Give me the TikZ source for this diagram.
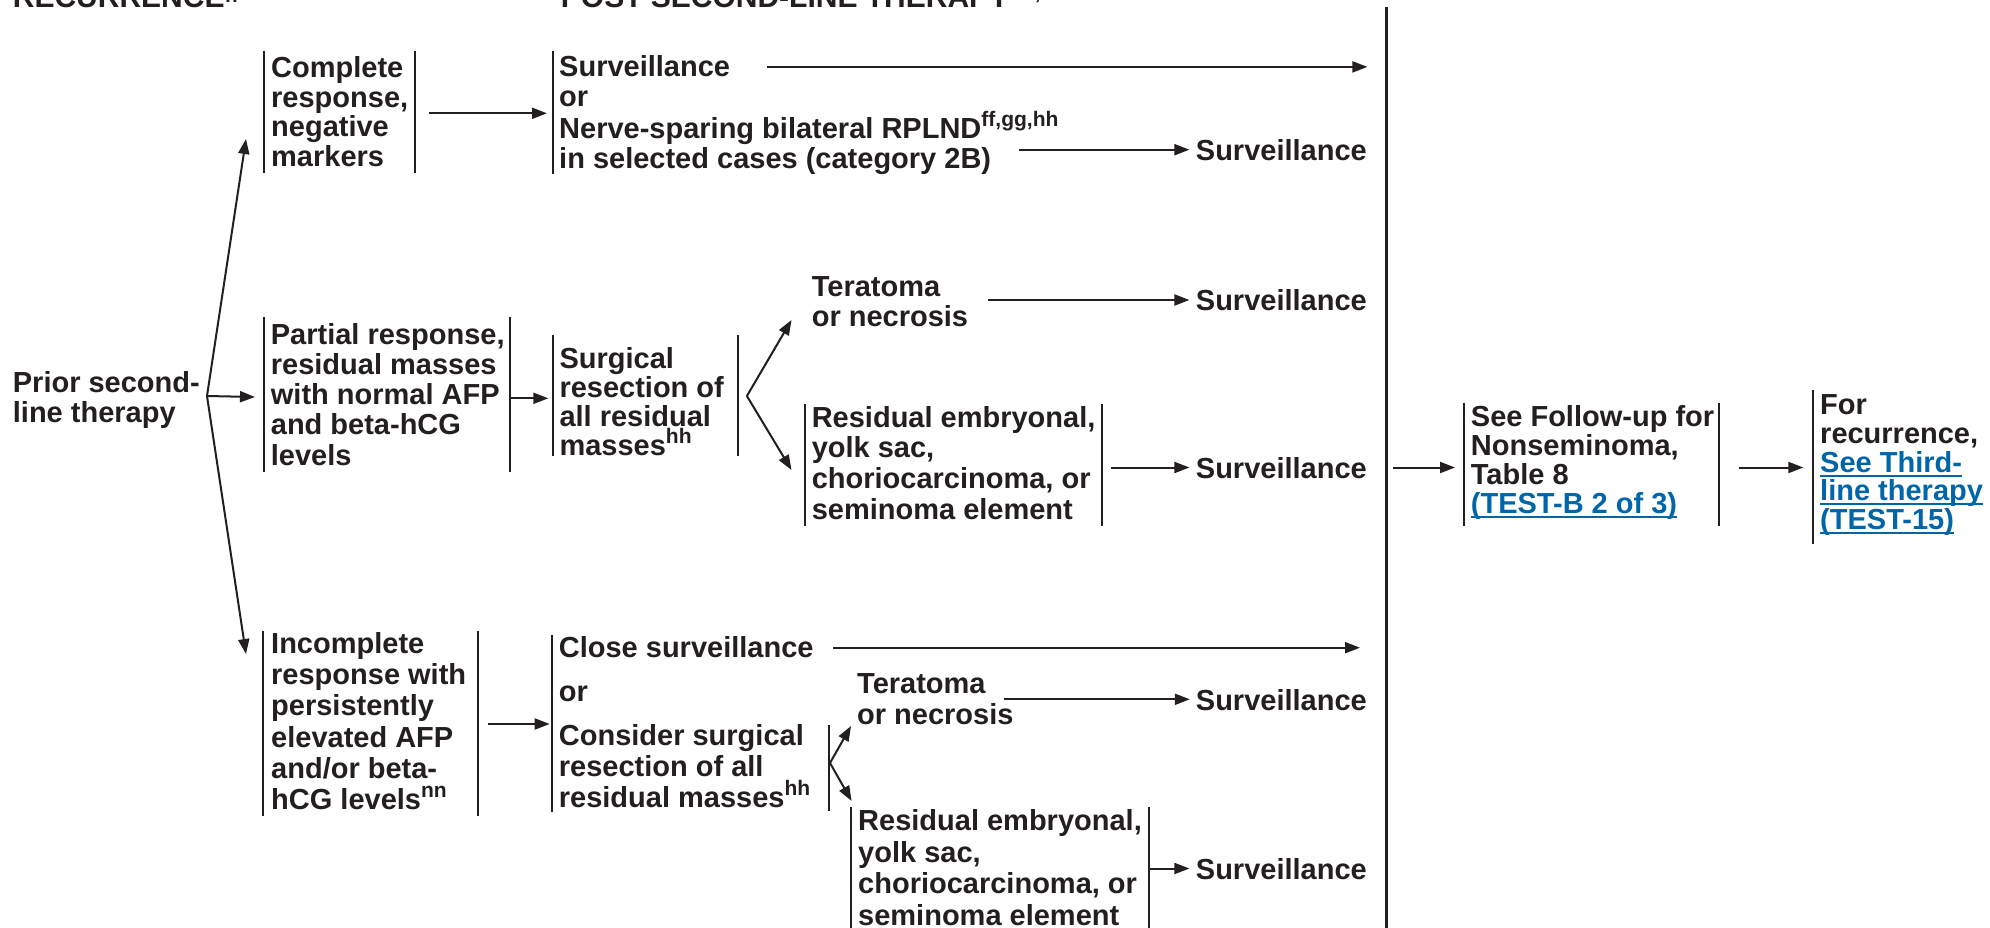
\documentclass[tikz,border=0pt]{standalone}
\usepackage{fontspec}
\setmainfont{Liberation Sans}
\usetikzlibrary{arrows.meta}
\definecolor{ink}{RGB}{35,31,32}
\definecolor{nblue}{RGB}{0,102,170}
\newcommand\ftx{\fontsize{29}{30}\selectfont\bfseries}
\newcommand\ml[2]{\vtop{\baselineskip=#1pt\lineskiplimit=-1000pt\lineskip=0pt\halign{##\hfil\cr#2\crcr}}}
\newcommand\sups[1]{\raisebox{12pt}{\fontsize{21}{21}\selectfont #1}}
\newcommand\hsups[2]{\raisebox{#1pt}{\fontsize{21}{21}\selectfont #2}}
\newcommand\lnk[1]{\setbox0=\hbox{#1}\rlap{\color{nblue}\rule[-4.5pt]{\wd0}{2pt}}{\color{nblue}\box0}}
\begin{document}
\begin{tikzpicture}[x=1pt,y=-1pt,
  txt/.style={inner sep=0pt, anchor=base west, font=\ftx, text=ink},
  bar/.style={draw=ink, line width=2pt},
  arr/.style={draw=ink, line width=2pt, -{Triangle[length=15pt,width=11pt]}}]
\useasboundingbox[fill=white] (0,0) rectangle (1990,928);

% headers (cut by the top edge)
\node[txt] (hdrA) at (12.7,7.5) {\fontsize{30}{30}\selectfont RECURRENCE\hsups{4.5}{ff}};
\node[txt] (hdrB) at (560.7,7.5) {\fontsize{30}{30}\selectfont POST SECOND-LINE THERAPY\hsups{8}{hh,nn}};

% text nodes
\node[txt] (prior) at (12.7,392) {\ml{30}{Prior second-\cr line therapy}};
\node[txt] (complete) at (271,77.5) {\ml{29.7}{Complete\cr response,\cr negative\cr markers}};
\node[txt] (survor) at (559,77) {\ml{30}{Surveillance\cr or\cr\noalign{\vskip2pt}Nerve-sparing bilateral RPLND\sups{ff,gg,hh}\cr in selected cases (category 2B)}};
\node[txt] (partial) at (270.7,344.3) {\ml{30.2}{Partial response,\cr residual masses\cr with normal AFP\cr and beta-hCG\cr levels}};
\node[txt] (surgical) at (559.3,368.3) {\ml{29}{Surgical\cr resection of\cr all residual\cr masses\sups{hh}}};
\node[txt] (tera1) at (811.6,296) {\ml{30.5}{Teratoma\cr or necrosis}};
\node[txt] (resid1) at (811.6,427) {\ml{30.8}{Residual embryonal,\cr yolk sac,\cr choriocarcinoma, or\cr seminoma element}};
\node[txt] (incomplete) at (271,653.5) {\ml{31.2}{Incomplete\cr response with\cr persistently\cr elevated AFP\cr and/or beta-\cr hCG levels\sups{nn}}};
\node[txt] (close) at (558.7,657.5) {\ml{31}{Close surveillance\cr\noalign{\vskip12.5pt}or\cr\noalign{\vskip13pt}Consider surgical\cr resection of all\cr residual masses\sups{hh}}};
\node[txt] (tera2) at (857,693.5) {\ml{30.5}{Teratoma\cr or necrosis}};
\node[txt] (resid2) at (858,830.5) {\ml{31.5}{Residual embryonal,\cr yolk sac,\cr choriocarcinoma, or\cr seminoma element}};
\node[txt] (s1) at (1195.7,160.2) {Surveillance};
\node[txt] (s2) at (1195.7,310.5) {Surveillance};
\node[txt] (s3) at (1195.7,478) {Surveillance};
\node[txt] (s4) at (1195.7,710) {Surveillance};
\node[txt] (s5) at (1195.7,879) {Surveillance};
\node[txt] (follow) at (1470.7,426.7) {\ml{28.8}{See Follow-up for\cr Nonseminoma,\cr Table 8\cr\lnk{(TEST-B 2 of 3)}}};
\node[txt] (forrec) at (1820,414.5) {\ml{28.8}{For\cr recurrence,\cr\lnk{See Third-}\cr\lnk{line therapy}\cr\lnk{(TEST-15)}}};

% side bars of the boxes
\draw[bar] (264,50.7) -- (264,173.3);   \draw[bar] (415.4,50.7) -- (415.4,173.3);
\draw[bar] (553,50.7) -- (553,174);
\draw[bar] (264,317.3) -- (264,471.7);  \draw[bar] (510,317.3) -- (510,471.7);
\draw[bar] (553.3,335) -- (553.3,456);  \draw[bar] (738.3,335) -- (738.3,456);
\draw[bar] (805,404) -- (805,526);      \draw[bar] (1101.8,404) -- (1101.8,526);
\draw[bar] (263.4,630.7) -- (263.4,816);\draw[bar] (478.3,630.7) -- (478.3,816);
\draw[bar] (552.3,635) -- (552.3,811.7);\draw[bar] (829,725) -- (829,811);
\draw[bar] (850.8,806.7) -- (850.8,930);\draw[bar] (1149,806.7) -- (1149,930);
\draw[bar] (1464,402.7) -- (1464,525.7);\draw[bar] (1719.3,402.7) -- (1719.3,525.7);
\draw[bar] (1813.3,390) -- (1813.3,544);
\draw[draw=ink, line width=2.6pt] (1386.4,7) -- (1386.4,930);

% connector end points
\coordinate (f1) at (207,396);
\coordinate (toComplete) at (246,139);
\coordinate (toPartial) at (255,397);
\coordinate (toIncomplete) at (246,654);
\coordinate (cmpOut) at (429,113.3);   \coordinate (survorIn) at (547,113.3);
\coordinate (survOut) at (766.5,66.9); \coordinate (lineA) at (1367.4,66.9);
\coordinate (rplndOut) at (1019,149.7);\coordinate (s1In) at (1189.4,149.7);
\coordinate (partOut) at (510,398.3);  \coordinate (surgIn) at (548.3,398.3);
\coordinate (f2) at (746.9,396);
\coordinate (tera1In) at (791.5,320);  \coordinate (resid1In) at (791.5,470);
\coordinate (tera1Out) at (988,300);   \coordinate (s2In) at (1189.4,300);
\coordinate (resid1Out) at (1110.5,467.5); \coordinate (s3In) at (1189.4,467.5);
\coordinate (lineOut) at (1392.7,467.5);   \coordinate (followIn) at (1455,467.5);
\coordinate (followOut) at (1739.3,467.5); \coordinate (forrecIn) at (1803.3,467.5);
\coordinate (incOut) at (488,724);     \coordinate (closeIn) at (549.7,724);
\coordinate (closeOut) at (833,647.7); \coordinate (lineB) at (1360,647.7);
\coordinate (f3) at (830,763);
\coordinate (tera2In) at (851,726);    \coordinate (resid2In) at (851.6,801);
\coordinate (tera2Out) at (1004,699.3);\coordinate (s4In) at (1189.8,699.3);
\coordinate (resid2Out) at (1149,868.5); \coordinate (s5In) at (1189.4,868.5);

% connectors
\draw[arr] (f1) -- (toComplete);
\draw[arr] (f1) -- (toPartial);
\draw[arr] (f1) -- (toIncomplete);
\draw[arr] (cmpOut) -- (survorIn);
\draw[arr] (survOut) -- (lineA);
\draw[arr] (rplndOut) -- (s1In);
\draw[arr] (partOut) -- (surgIn);
\draw[arr] (f2) -- (tera1In);
\draw[arr] (f2) -- (resid1In);
\draw[arr] (tera1Out) -- (s2In);
\draw[arr] (resid1Out) -- (s3In);
\draw[arr] (lineOut) -- (followIn);
\draw[arr] (followOut) -- (forrecIn);
\draw[arr] (incOut) -- (closeIn);
\draw[arr] (closeOut) -- (lineB);
\draw[arr] (f3) -- (tera2In);
\draw[arr] (f3) -- (resid2In);
\draw[arr] (tera2Out) -- (s4In);
\draw[arr] (resid2Out) -- (s5In);
\end{tikzpicture}
\end{document}
